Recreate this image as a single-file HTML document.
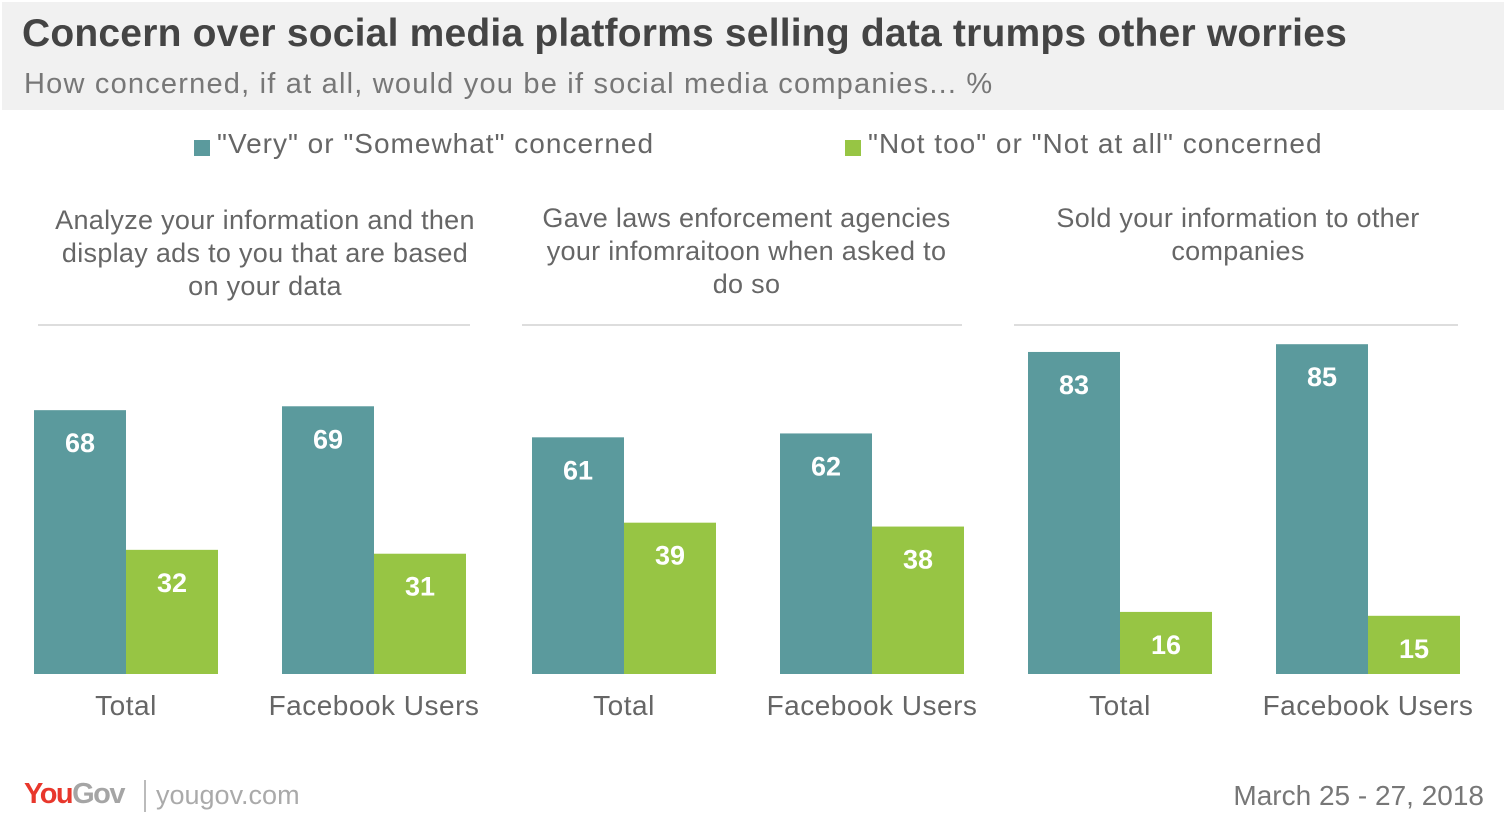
<!DOCTYPE html>
<html><head><meta charset="utf-8"><style>
body{margin:0;width:1510px;height:828px;background:#fff;font-family:"Liberation Sans",sans-serif;position:relative;overflow:hidden}
.abs{position:absolute}
#hdr{left:2px;top:2px;width:1502px;height:108px;background:#f1f1f1}
.qt{position:absolute;text-align:center;font-size:27px;color:#666;line-height:33px;letter-spacing:0.3px}
.rule{position:absolute;top:324px;height:2px;background:#ddd}
.xl{position:absolute;top:690px;font-size:28px;color:#666;text-align:center;width:248px;letter-spacing:0.5px}
</style></head><body>
<div id="hdr" class="abs"></div>
<div class="abs" style="left:22px;top:12px;font-size:39px;font-weight:bold;color:#444;letter-spacing:0.2px">Concern over social media platforms selling data trumps other worries</div>
<div class="abs" style="left:24px;top:68px;font-size:29px;color:#777;letter-spacing:1.2px">How concerned, if at all, would you be if social media companies... %</div>
<div class="abs" style="left:194px;top:140px;width:16px;height:16px;background:#5b9a9d"></div>
<div class="abs" style="left:217px;top:128px;font-size:28px;color:#666;letter-spacing:1px">"Very" or "Somewhat" concerned</div>
<div class="abs" style="left:845px;top:140px;width:16px;height:16px;background:#97c544"></div>
<div class="abs" style="left:868px;top:128px;font-size:28px;color:#666;letter-spacing:1px">"Not too" or "Not at all" concerned</div>
<div class="qt" style="left:50px;top:204px;width:430px">Analyze your information and then display ads to you that are based on your data</div>
<div class="qt" style="left:534px;top:202px;width:425px">Gave laws enforcement agencies your infomraitoon when asked to do so</div>
<div class="qt" style="left:1030px;top:202px;width:416px">Sold your information to other companies</div>
<div class="rule" style="left:38px;width:432px"></div>
<div class="rule" style="left:522px;width:440px"></div>
<div class="rule" style="left:1014px;width:444px"></div>
<svg class="abs" style="left:0;top:0" width="1510" height="828" id="chart"></svg>
<div class="abs" style="left:24px;top:778px;font-size:29px;font-weight:bold;letter-spacing:-1.5px"><span style="color:#e8372c">You</span><span style="color:#a5a5a5">Gov</span></div>
<div class="abs" style="left:144px;top:780px;width:2px;height:32px;background:#bbb"></div>
<div class="abs" style="left:156px;top:780px;font-size:27px;color:#aaa">yougov.com</div>
<div class="abs" style="right:26px;top:780px;font-size:28px;color:#777">March 25 - 27, 2018</div>
<script>
const groups=["Total","Facebook Users","Total","Facebook Users","Total","Facebook Users"];
const concerned=[68,69,61,62,83,85];
const notConcerned=[32,31,39,38,16,15];
const svg=document.getElementById('chart');
const base=674,scale=3.88;
const y=v=>base-v*scale;
const panelX=[34,532,1028];
const gx=i=>panelX[Math.floor(i/2)]+(i%2)*248;
function rect(x,v,c,name){
 const r=document.createElementNS('http://www.w3.org/2000/svg','rect');
 r.setAttribute('x',x);r.setAttribute('y',y(v));r.setAttribute('width',92);r.setAttribute('height',v*scale);r.setAttribute('fill',c);
 
 
 svg.appendChild(r);
 const t=document.createElementNS('http://www.w3.org/2000/svg','text');
 t.setAttribute('x',x+46);t.setAttribute('y',y(v)+42);t.setAttribute('text-anchor','middle');
 t.setAttribute('fill','#fff');t.setAttribute('font-size','27');t.setAttribute('font-weight','bold');
 t.setAttribute('font-family','Liberation Sans, sans-serif');t.textContent=v;
 
 
 svg.appendChild(t);
}
groups.forEach((g,i)=>{
 rect(gx(i),concerned[i],'#5b9a9d','bar-concerned-'+i);
 rect(gx(i)+92,notConcerned[i],'#97c544','bar-not-concerned-'+i);
 const d=document.createElement('div');d.className='xl';d.style.left=(gx(i)-32)+'px';d.textContent=g;
 
 
 document.body.appendChild(d);
});
</script>
</body></html>
